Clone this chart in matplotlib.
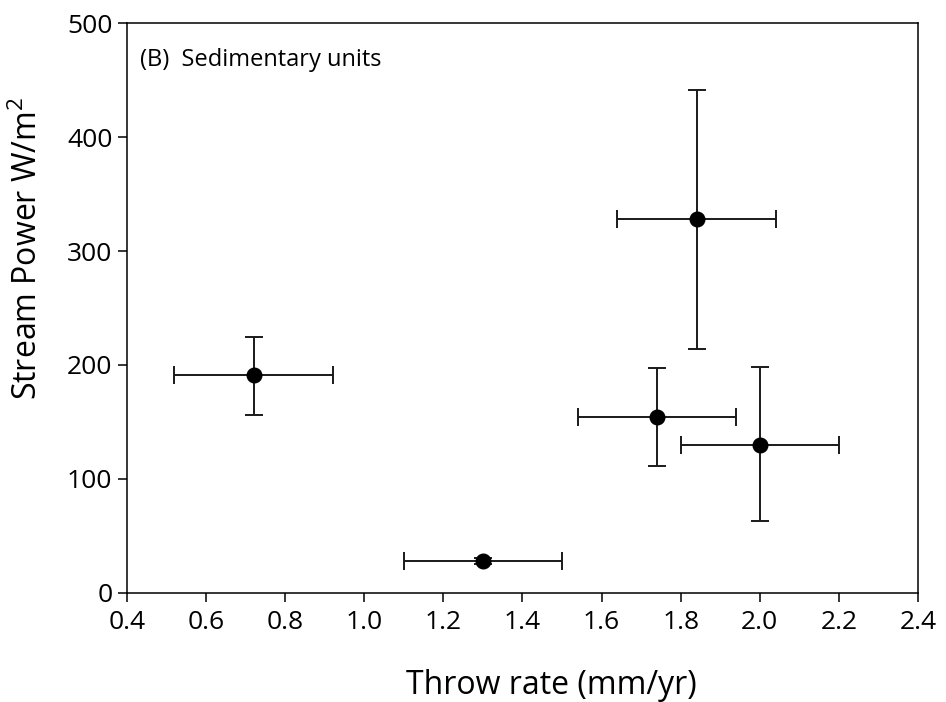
import matplotlib
matplotlib.use('Agg')
import matplotlib.pyplot as plt
import numpy as np

# Throw rate vs stream power, sedimentary units
throw_rate = [0.72, 1.30, 1.84, 1.74, 2.00]
throw_err = [0.20, 0.20, 0.20, 0.20, 0.20]
stream_power = [191, 28, 328, 154, 130]
power_err_low = [35, 3, 114, 43, 67]
power_err_high = [34, 3, 113, 43, 68]

x_ticks = [0.4, 0.6, 0.8, 1.0, 1.2, 1.4, 1.6, 1.8, 2.0, 2.2, 2.4]
y_ticks = [0, 100, 200, 300, 400, 500]

plt.rcParams['font.family'] = ['Open Sans', 'DejaVu Sans']

fig = plt.figure(figsize=(9.46, 7.02), dpi=100)
ax = fig.add_axes([0.1342, 0.1553, 0.8362, 0.8119])

ax.errorbar(throw_rate, stream_power,
            xerr=throw_err, yerr=[power_err_low, power_err_high],
            fmt='o', color='black', ecolor='#1a1a1a', markersize=10.5,
            elinewidth=1.4, capsize=6.3, capthick=1.4)

ax.set_xlim(0.4, 2.4)
ax.set_ylim(0, 500)
ax.set_xticks(x_ticks)
ax.set_xticklabels([f'{t:.1f}' for t in x_ticks])
ax.set_yticks(y_ticks)

for s in ax.spines.values():
    s.set_linewidth(1.1)
ax.tick_params(direction='out', length=6.5, width=1.1, labelsize=19)
ax.tick_params(axis='x', pad=6)
ax.tick_params(axis='y', pad=4)

ax.set_xlabel('Throw rate (mm/yr)', fontsize=23)
ax.set_ylabel(r'Stream Power W/m$^{\mathregular{2}}$', fontsize=23)
ax.xaxis.set_label_coords(0.536, -0.133)
ax.yaxis.set_label_coords(-0.104, 0.605)

ax.text(0.017, 0.935, '(B)  Sedimentary units', transform=ax.transAxes,
        fontsize=17, va='center', ha='left')

fig.savefig('out.png', dpi=100)
